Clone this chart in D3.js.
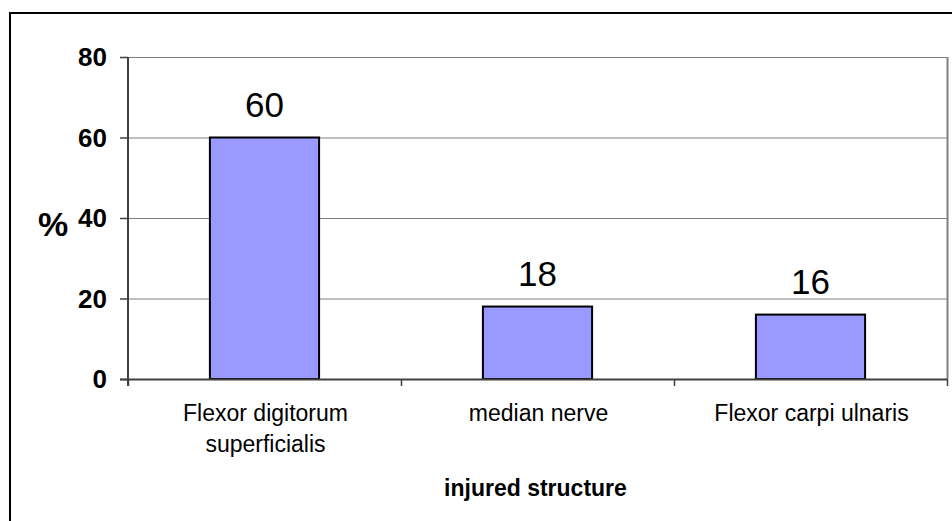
<!DOCTYPE html>
<html><head><meta charset="utf-8">
<script src="https://cdn.jsdelivr.net/npm/d3@7"></script>
<style>body{margin:0;background:#fff}svg{display:block}text{font-family:Arial,"Liberation Sans",sans-serif}</style>
</head><body>
<svg id="c" width="952" height="521"></svg>
<script>
const categories = [["Flexor digitorum","superficialis"],["median nerve"],["Flexor carpi ulnaris"]];
const values = [60, 18, 16];
const yTicks = [0, 20, 40, 60, 80];

const svg = d3.select("#c");
const L = 128, R = 947, T = 57, B = 379;
const FONT = "Arial, 'Liberation Sans', sans-serif";
// outer border
svg.append("rect").attr("x",10).attr("y",13).attr("width",960).attr("height",540)
  .attr("fill","none").attr("stroke","#000").attr("stroke-width",2);

const x = d3.scaleBand().domain(d3.range(categories.length)).range([L,R]).paddingInner(0.6).paddingOuter(0.3);
const xEdge = d3.scaleLinear().domain([0,categories.length]).range([L,R]);
const y = d3.scaleLinear().domain([0,80]).range([B,T]);

// gridlines
svg.append("g").selectAll("line").data(yTicks.filter(d=>d>0)).join("line")
  .attr("x1",L).attr("x2",R).attr("y1",d=>y(d)+0.5).attr("y2",d=>y(d)+0.5)
  .attr("stroke","#808080").attr("stroke-width",1);
// right border
svg.append("line").attr("x1",R+0.5).attr("x2",R+0.5).attr("y1",T).attr("y2",B).attr("stroke","#808080").attr("stroke-width",2);

// bars
svg.append("g").selectAll("rect").data(values).join("rect")
  .attr("x",(d,i)=>x(i)).attr("width",x.bandwidth())
  .attr("y",d=>y(d)).attr("height",d=>B-y(d))
  .attr("fill","#9999FF").attr("stroke","#000").attr("stroke-width",2);

// value labels
svg.append("g").selectAll("text").data(values).join("text")
  .attr("x",(d,i)=>x(i)+x.bandwidth()/2).attr("y",d=>y(d)-21)
  .attr("text-anchor","middle").attr("font-size",35).attr("fill","#000").text(d=>d);

// y axis
const yAxis = d3.axisLeft(y).tickValues(yTicks).tickSize(8).tickPadding(13);
const gy = svg.append("g").attr("transform",`translate(${L},0)`).call(yAxis);
gy.select(".domain").attr("stroke","#404040").attr("stroke-width",2).attr("d",`M0,${T}V${B+7}`);
gy.selectAll(".tick line").attr("stroke","#404040").attr("stroke-width",1.5);
gy.selectAll(".tick text").attr("font-size",26).attr("font-weight","bold").attr("fill","#000")
  .attr("font-family",FONT).attr("dy","0.34em");

// x axis
svg.append("line").attr("x1",L-8).attr("x2",R).attr("y1",B+0.5).attr("y2",B+0.5).attr("stroke","#404040").attr("stroke-width",2);
svg.append("g").selectAll("line").data(d3.range(categories.length+1)).join("line")
  .attr("x1",d=>xEdge(d)+0.5).attr("x2",d=>xEdge(d)+0.5).attr("y1",B).attr("y2",B+7)
  .attr("stroke","#404040").attr("stroke-width",1.5);

// category labels
const cl = svg.append("g").selectAll("text").data(categories).join("text")
  .attr("text-anchor","middle").attr("font-size",23).attr("fill","#000")
  .attr("transform",(d,i)=>`translate(${x(i)+x.bandwidth()/2+1},421)`);
cl.selectAll("tspan").data(d=>d).join("tspan").attr("x",0).attr("dy",(d,j)=>j?30.5:0).text(d=>d);

// axis titles
svg.append("text").attr("x",53).attr("y",236).attr("text-anchor","middle").attr("font-size",34).attr("font-weight","bold").attr("fill","#000").text("%");
svg.append("text").attr("x",(L+R)/2-2).attr("y",496).attr("text-anchor","middle").attr("font-size",23).attr("font-weight","bold").attr("fill","#000").text("injured structure");
</script>
</body></html>
